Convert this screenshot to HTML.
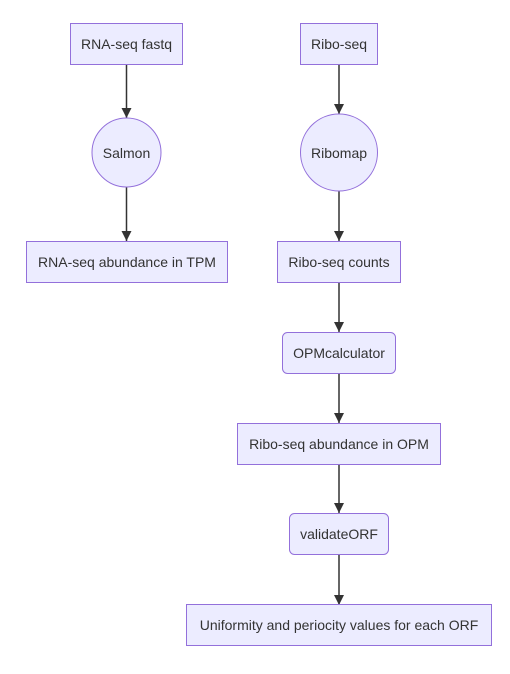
<!DOCTYPE html>
<html><head><style>
html,body{margin:0;padding:0;background:#fff;}
svg text{font-family:"Liberation Sans",Arial,sans-serif;font-size:14px;fill:#333;text-anchor:middle;dominant-baseline:central;}
.n{fill:#ECECFF;stroke:#9370DB;stroke-width:1;}
.e{stroke:#333;stroke-width:1.5;fill:none;}
</style></head><body>
<svg width="510" height="669" viewBox="0 0 510 669" xmlns="http://www.w3.org/2000/svg">
<defs><marker id="a" viewBox="0 0 10 10" refX="10" refY="5" markerWidth="10" markerHeight="10" markerUnits="userSpaceOnUse" orient="auto"><path d="M0,0L10,5L0,10z" fill="#333"/></marker></defs>
<line class="e" x1="126.5" y1="64" x2="126.5" y2="118" marker-end="url(#a)"/>
<line class="e" x1="126.5" y1="187" x2="126.5" y2="241" marker-end="url(#a)"/>
<line class="e" x1="339" y1="64" x2="339" y2="114" marker-end="url(#a)"/>
<line class="e" x1="339" y1="191" x2="339" y2="241" marker-end="url(#a)"/>
<line class="e" x1="339" y1="282" x2="339" y2="332" marker-end="url(#a)"/>
<line class="e" x1="339" y1="373" x2="339" y2="423" marker-end="url(#a)"/>
<line class="e" x1="339" y1="464" x2="339" y2="513" marker-end="url(#a)"/>
<line class="e" x1="339" y1="555" x2="339" y2="605" marker-end="url(#a)"/>
<rect class="n" x="70.5" y="23.5" width="112" height="41"/><text x="126.5" y="44">RNA-seq fastq</text>
<circle class="n" cx="126.5" cy="152.5" r="34.5"/><text x="126.5" y="153">Salmon</text>
<rect class="n" x="26.5" y="241.5" width="201" height="41"/><text x="127" y="262">RNA-seq abundance in TPM</text>
<rect class="n" x="300.5" y="23.5" width="77" height="41"/><text x="339" y="44">Ribo-seq</text>
<circle class="n" cx="339" cy="152.5" r="38.5"/><text x="339" y="153">Ribomap</text>
<rect class="n" x="277.5" y="241.5" width="123" height="41"/><text x="339" y="262">Ribo-seq counts</text>
<rect class="n" x="282.5" y="332.5" width="113" height="41" rx="5"/><text x="339" y="353">OPMcalculator</text>
<rect class="n" x="237.5" y="423.5" width="203" height="41"/><text x="339" y="444">Ribo-seq abundance in OPM</text>
<rect class="n" x="289.5" y="513.5" width="99" height="41" rx="5"/><text x="339" y="534">validateORF</text>
<rect class="n" x="186.5" y="604.5" width="305" height="41"/><text x="339" y="625">Uniformity and periocity values for each ORF</text>
</svg>
</body></html>
